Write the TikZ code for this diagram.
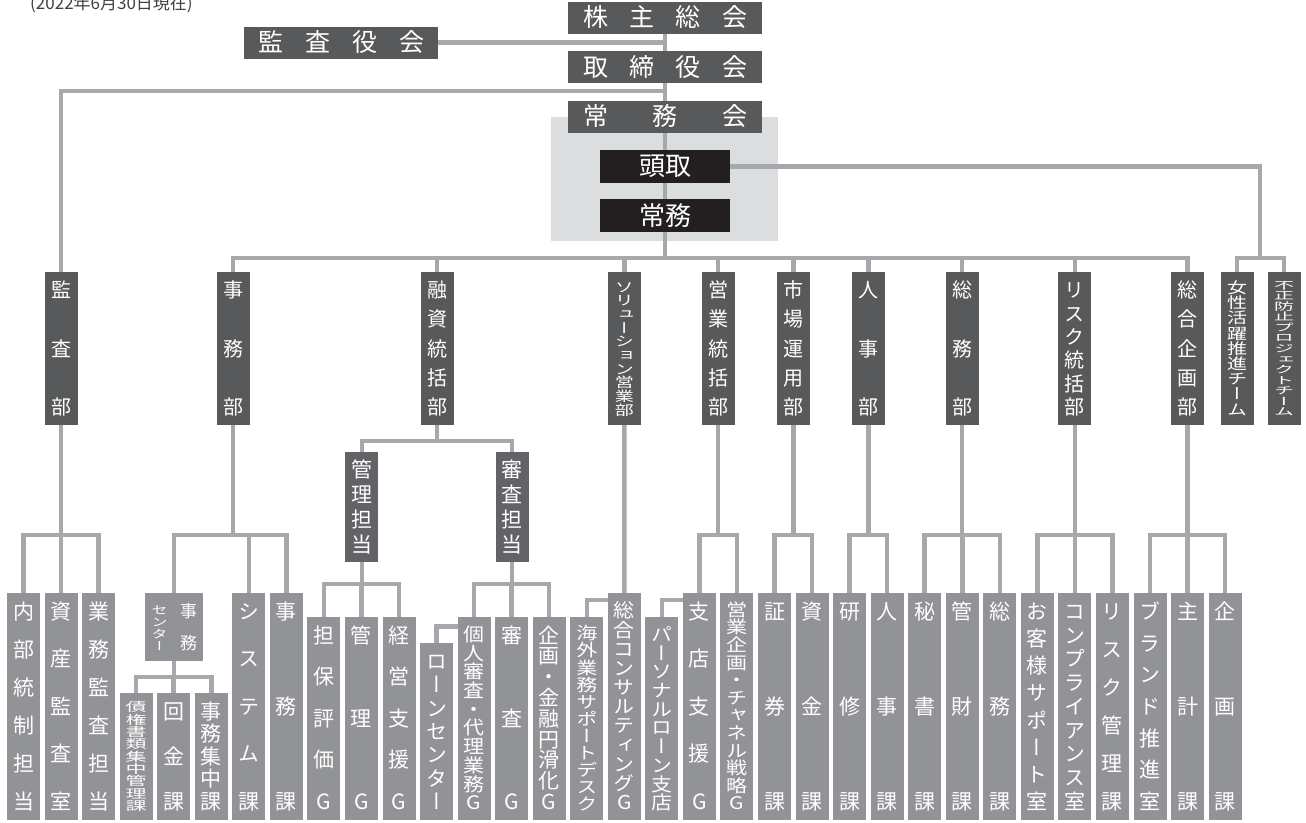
\documentclass[tikz,border=0pt]{standalone}
\usepackage{fontspec}
\usepackage{graphicx}
\setmainfont{Noto Sans CJK JP}
\newfontfamily\vjp[RawFeature=+vert]{Noto Sans CJK JP}
\usetikzlibrary{calc}
\definecolor{dk}{RGB}{88,89,91}
\definecolor{sb}{RGB}{98,99,102}
\definecolor{md}{RGB}{146,147,151}
\definecolor{lc}{RGB}{167,168,171}
\definecolor{pn}{RGB}{220,221,222}
\definecolor{bk}{RGB}{35,31,32}
\definecolor{hd}{RGB}{64,64,64}
\pgfdeclarelayer{panel}
\pgfdeclarelayer{lines}
\pgfsetlayers{panel,lines,main}
% vertical text stacking
\def\vys{1}
\newcommand\vcell[1]{\hbox to 0pt{\hss\scalebox{1}[\vys]{\vrule height .88em depth .12em width 0pt\smash{#1}}\hss}}
\def\vlist#1{\vlistA#1\relax}
\def\vlistA#1{\vcell{#1}\vlistB}
\def\vlistB#1{\ifx\relax#1\else\vfill\vcell{#1}\expandafter\vlistB\fi}
\newcommand\vtext[4]{{\def\vys{#3}\fontsize{#2}{#2}\vjp\vbox to #1pt{\offinterlineskip\vlist{#4}\kern0pt}}}
\tikzset{
  base/.style={inner sep=0pt, outer sep=0pt, text=white},
  topbox/.style={base, fill=dk, minimum width=194pt, minimum height=32pt, font=\fontsize{25}{25}\selectfont},
  execbox/.style={base, fill=bk, minimum width=130pt, minimum height=33pt, font=\fontsize{26}{26}\selectfont},
  deptbox/.style={base, fill=dk, minimum width=33pt, minimum height=153pt},
  subbox/.style={base, fill=sb, minimum width=33pt, minimum height=110pt},
  leafbox/.style={base, fill=md, minimum width=33pt},
  ln/.style={draw=lc, line width=4.5pt},
}
\newcommand\dept[5]{\node[deptbox] (#1) at (#2,348.5) {\vtext{137}{#3}{#4}{#5}};}
\newcommand\leaf[6]{%
  \pgfmathsetmacro\lfx{7+37.55*#2+16.5}%
  \pgfmathsetmacro\lfh{820-#3}%
  \pgfmathsetmacro\lfy{(820+#3)/2}%
  \pgfmathsetmacro\lft{\lfh-16}%
  \node[leafbox, minimum height=\lfh pt] (#1) at (\lfx,\lfy) {\vtext{\lft}{#4}{#5}{#6}};}
\newcommand\br[3]{%
  \path (#1.south) ++(0,#2) coordinate (#1-j);
  \draw[ln] (#1.south) -- (#1-j);
  \foreach \cc in {#3}{\draw[ln] (\cc.north) |- (#1-j);}}
\begin{document}
\begin{tikzpicture}[x=1pt,y=-1pt]
\useasboundingbox (0,0) rectangle (1306,822);
\node[anchor=base west, text=hd, font=\fontsize{17}{17}\selectfont, inner sep=0pt] (date) at (30,9) {(2022年6月30日現在)};
% top
\node[topbox] (sh) at (665,17.5) {\hbox to 164pt{株\hfill 主\hfill 総\hfill 会}};
\node[topbox] (ka) at (341,42.5) {\hbox to 166pt{監\hfill 査\hfill 役\hfill 会}};
\node[topbox] (tr) at (665,67) {\hbox to 164pt{取\hfill 締\hfill 役\hfill 会}};
\node[topbox] (jk) at (665,116.5) {\hbox to 164pt{常\hfill 務\hfill 会}};
\begin{pgfonlayer}{panel}
\fill[pn] (551,117) rectangle (778,241);
\end{pgfonlayer}
\node[execbox] (tt) at (665,166.5) {頭取};
\node[execbox] (jo) at (665,215.5) {常務};
% departments
\dept{kansa}{61}{20}{1}{監査部}
\dept{jimu}{233}{20}{1}{事務部}
\dept{yushi}{437}{20}{1}{融資統括部}
\dept{sol}{624.3}{19}{0.72}{ソリューション営業部}
\dept{eigyo}{718.2}{20}{1}{営業統括部}
\dept{shijo}{793.3}{20}{1}{市場運用部}
\dept{jinji}{868.4}{20}{1}{人事部}
\dept{somu}{962.2}{20}{1}{総務部}
\dept{risk}{1074.9}{20}{1}{リスク統括部}
\dept{sogo}{1187.5}{20}{1}{総合企画部}
\dept{josei}{1237}{20}{0.76}{女性活躍推進チーム}
\dept{fusei}{1284}{20}{0.52}{不正防止プロジェクトチーム}
% sub
\node[subbox] (kanri) at (361.9,507) {\vtext{96}{21}{1}{管理担当}};
\node[subbox] (shinsa) at (512.1,507) {\vtext{96}{21}{1}{審査担当}};
\node[base, fill=md, minimum width=58pt, minimum height=68pt] (jc) at (174,627)
  {\hbox{\vtext{47}{16}{0.72}{センター}\hspace{29pt}\vtext{49}{17}{1}{事務}}};
% leaves
\leaf{l0}{0}{593}{21}{1}{内部統制担当}
\leaf{l1}{1}{593}{21}{1}{資産監査室}
\leaf{l2}{2}{593}{21}{1}{業務監査担当}
\leaf{l3}{3}{693}{21}{0.58}{債権書類集中管理課}
\leaf{l4}{4}{693}{21}{1}{回金課}
\leaf{l5}{5}{693}{21}{1}{事務集中課}
\leaf{l6}{6}{593}{21}{1}{システム課}
\leaf{l7}{7}{593}{21}{1}{事務課}
\leaf{l8}{8}{617}{21}{1}{担保評価G}
\leaf{l9}{9}{617}{21}{1}{管理G}
\leaf{l10}{10}{617}{21}{1}{経営支援G}
\leaf{l11}{11}{643}{21}{1}{ローンセンター}
\leaf{l12}{12}{617}{21}{0.89}{個人審査・代理業務G}
\leaf{l13}{13}{617}{21}{1}{審査G}
\leaf{l14}{14}{617}{21}{0.98}{企画・金融円滑化G}
\leaf{l15}{15}{617}{21}{0.81}{海外業務サポートデスク}
\leaf{l16}{16}{593}{21}{0.91}{総合コンサルティングG}
\leaf{l17}{17}{617}{21}{0.89}{パーソナルローン支店}
\leaf{l18}{18}{593}{21}{1}{支店支援G}
\leaf{l19}{19}{593}{21}{0.83}{営業企画・チャネル戦略G}
\leaf{l20}{20}{593}{21}{1}{証券課}
\leaf{l21}{21}{593}{21}{1}{資金課}
\leaf{l22}{22}{593}{21}{1}{研修課}
\leaf{l23}{23}{593}{21}{1}{人事課}
\leaf{l24}{24}{593}{21}{1}{秘書課}
\leaf{l25}{25}{593}{21}{1}{管財課}
\leaf{l26}{26}{593}{21}{1}{総務課}
\leaf{l27}{27}{593}{21}{1}{お客様サポート室}
\leaf{l28}{28}{593}{21}{1}{コンプライアンス室}
\leaf{l29}{29}{593}{21}{1}{リスク管理課}
\leaf{l30}{30}{593}{21}{1}{ブランド推進室}
\leaf{l31}{31}{593}{21}{1}{主計課}
\leaf{l32}{32}{593}{21}{1}{企画課}
% connectors
\begin{pgfonlayer}{lines}
\coordinate (bus) at (665,258);
\coordinate (tk) at (665,91);
\coordinate (pj) at (1260,258);
\draw[ln] (sh.south) -- (tr.north);
\draw[ln] (tr.south) -- (jk.north);
\draw[ln] (jk.south) -- (tt.north);
\draw[ln] (tt.south) -- (jo.north);
\draw[ln] (jo.south) -- (bus);
\draw[ln] (ka.east) -- (ka.east -| sh.south);
\draw[ln] (tk) -| (kansa.north);
\draw[ln] (tt.east) -| (pj);
\draw[ln] (josei.north) |- (pj) -| (fusei.north);
\foreach \d in {jimu,yushi,sol,eigyo,shijo,jinji,somu,risk,sogo}{\draw[ln] (\d.north) |- (bus);}
\br{kansa}{110}{l0,l1,l2}
\br{jimu}{110}{jc,l6,l7}
\br{jc}{16}{l3,l4,l5}
\br{yushi}{16}{kanri,shinsa}
\br{kanri}{22}{l8,l9,l10}
\br{shinsa}{22}{l12,l13,l14}
\draw[ln] (sol.south) -- (l16.north);
\br{eigyo}{110}{l18,l19}
\br{shijo}{110}{l20,l21}
\br{jinji}{110}{l22,l23}
\br{somu}{110}{l24,l25,l26}
\br{risk}{110}{l27,l28,l29}
\br{sogo}{110}{l30,l31,l32}
\draw[ln] (l11.north) |- ([yshift=-9.5pt]l12.north west);
\draw[ln] (l15.north) |- ([yshift=-7pt]l16.north west);
\draw[ln] (l17.north) |- ([yshift=-7pt]l18.north west);
\end{pgfonlayer}
\end{tikzpicture}
\end{document}
